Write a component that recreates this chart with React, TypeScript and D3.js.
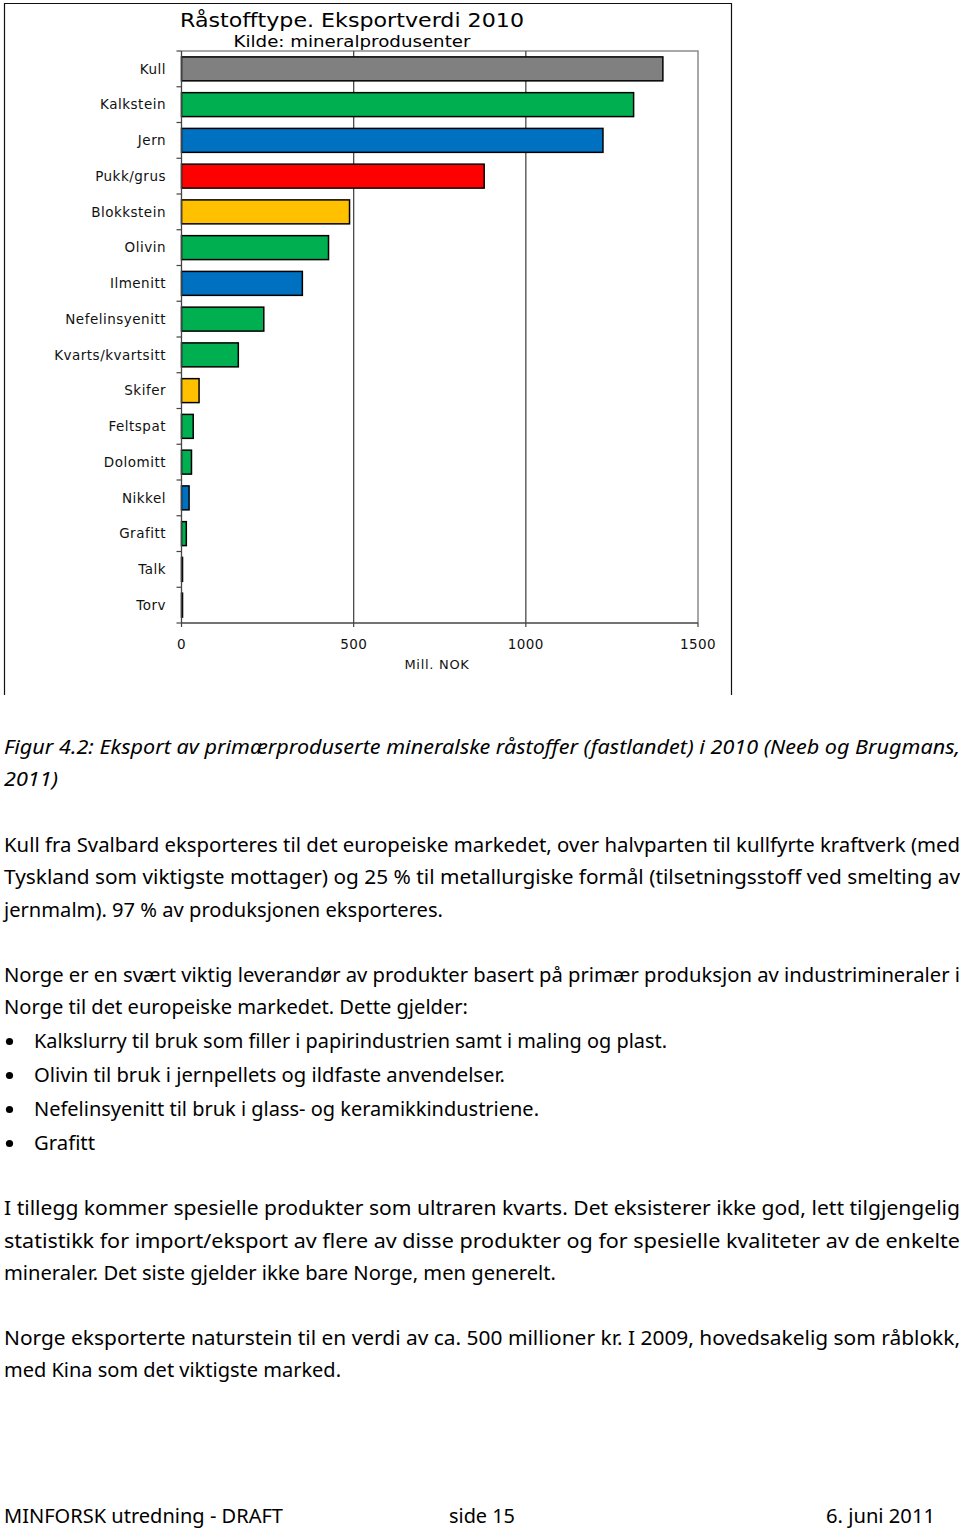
import React from "react";
import * as d3 from "d3";

// ---------- data ----------
const categories = [
  "Kull", "Kalkstein", "Jern", "Pukk/grus", "Blokkstein", "Olivin", "Ilmenitt",
  "Nefelinsyenitt", "Kvarts/kvartsitt", "Skifer", "Feltspat", "Dolomitt",
  "Nikkel", "Grafitt", "Talk", "Torv",
];
const values = [1398, 1313, 1224, 879, 488, 427, 351, 239, 165, 51, 34, 29, 22, 14, 3, 3];
const groups = [
  "kull", "ind", "metall", "byggeråstoff", "naturstein", "ind", "metall",
  "ind", "ind", "naturstein", "ind", "ind", "metall", "ind", "ind", "kull",
];
const xTicks = [0, 500, 1000, 1500];
const chartTitle = "Råstofftype. Eksportverdi 2010";
const chartSubtitle = "Kilde: mineralprodusenter";
const xAxisTitle = "Mill. NOK";

const captionLines = [
  "Figur 4.2: Eksport av primærproduserte mineralske råstoffer (fastlandet) i 2010 (Neeb og Brugmans,",
  "2011)",
];
const para1 = [
  "Kull fra Svalbard eksporteres til det europeiske markedet, over halvparten til kullfyrte kraftverk (med",
  "Tyskland som viktigste mottager) og 25 % til metallurgiske formål (tilsetningsstoff ved smelting av",
  "jernmalm). 97 % av produksjonen eksporteres.",
];
const para2 = [
  "Norge er en svært viktig leverandør av produkter basert på primær produksjon av industrimineraler i",
  "Norge til det europeiske markedet. Dette gjelder:",
];
const bullets = [
  "Kalkslurry til bruk som filler i papirindustrien samt i maling og plast.",
  "Olivin til bruk i jernpellets og ildfaste anvendelser.",
  "Nefelinsyenitt til bruk i glass- og keramikkindustriene.",
  "Grafitt",
];
const para3 = [
  "I tillegg kommer spesielle produkter som ultraren kvarts. Det eksisterer ikke god, lett tilgjengelig",
  "statistikk for import/eksport av flere av disse produkter og for spesielle kvaliteter av de enkelte",
  "mineraler. Det siste gjelder ikke bare Norge, men generelt.",
];
const para4 = [
  "Norge eksporterte naturstein til en verdi av ca. 500 millioner kr. I 2009, hovedsakelig som råblokk,",
  "med Kina som det viktigste marked.",
];
const footer = ["MINFORSK utredning - DRAFT", "side 15", "6. juni 2011"];

// ---------- styles / layout ----------
const colorMap: Record<string, string> = {
  kull: "#808080",
  ind: "#00b050",
  metall: "#0070c0",
  "byggeråstoff": "#ff0000",
  naturstein: "#ffc000",
};

const BODY_FONT = "'Noto Sans', 'Open Sans', sans-serif";
const CHART_FONT = "'DejaVu Sans', Verdana, sans-serif";

type Line = { text: string; x: number; y: number; w: number; italic?: boolean };

function TextLine({ l }: { l: Line }) {
  return (
    <text
      x={l.x}
      y={l.y}
      fontFamily={BODY_FONT}
      fontSize={20}
      fontStyle={l.italic ? "italic" : "normal"}
      fill="#000"
      textLength={l.w}
      lengthAdjust="spacingAndGlyphs"
    >
      {l.text}
    </text>
  );
}

export default function App() {
  const W = 960;
  const H = 1531;

  const plotLeft = 181.5;
  const plotRight = 698;
  const plotTop = 51;
  const plotBottom = 623;

  const x = d3.scaleLinear().domain([0, 1500]).range([plotLeft, plotRight]);
  const y = d3
    .scaleBand<string>()
    .domain(categories)
    .range([plotTop, plotBottom])
    .paddingInner(0.33)
    .paddingOuter(0.165);

  const step = y.step();
  const boundaries = d3.range(categories.length + 1).map((i) => plotTop + i * step);

  // body text layout
  const FULL = 956;
  const lines: Line[] = [];
  lines.push({ text: captionLines[0], x: 4, y: 754, w: FULL, italic: true });
  lines.push({ text: captionLines[1], x: 4, y: 786, w: 54, italic: true });
  const p1w = [FULL, FULL, 439];
  para1.forEach((t, i) => lines.push({ text: t, x: 4, y: 852 + i * 32.3, w: p1w[i] }));
  const p2w = [FULL, 464];
  para2.forEach((t, i) => lines.push({ text: t, x: 4, y: 982 + i * 32.3, w: p2w[i] }));
  const bw = [633, 471, 505, 61];
  const bulletY = bullets.map((_, i) => 1048 + i * 34);
  bullets.forEach((t, i) => lines.push({ text: t, x: 34, y: bulletY[i], w: bw[i] }));
  const p3w = [FULL, FULL, 552];
  para3.forEach((t, i) => lines.push({ text: t, x: 4, y: 1215 + i * 32.5, w: p3w[i] }));
  const p4w = [FULL, 337];
  para4.forEach((t, i) => lines.push({ text: t, x: 4, y: 1345 + i * 32.3, w: p4w[i] }));
  const fx = [4, 449, 826];
  const fw = [279, 66, 109];
  footer.forEach((t, i) => lines.push({ text: t, x: fx[i], y: 1523, w: fw[i] }));

  return (
    <svg
      width={W}
      height={H}
      style={{ position: "absolute", left: 0, top: 0, background: "#fff" }}
    >
      <rect x={0} y={0} width={W} height={H} fill="#fff" />

      {/* chart outer frame (open at the bottom) */}
      <path d="M4.5,695 V3.5 H731.5 V695" fill="none" stroke="#111" strokeWidth={1.2} />

      {/* titles */}
      <text
        x={352}
        y={27}
        textAnchor="middle"
        fontFamily={CHART_FONT}
        fontSize={19.5}
        fill="#000"
        textLength={344}
        lengthAdjust="spacingAndGlyphs"
      >
        {chartTitle}
      </text>
      <text
        x={352}
        y={47}
        textAnchor="middle"
        fontFamily={CHART_FONT}
        fontSize={15.5}
        fill="#000"
        textLength={237}
        lengthAdjust="spacingAndGlyphs"
      >
        {chartSubtitle}
      </text>

      {/* plot border top & right */}
      <path
        d={`M${plotLeft},${plotTop} H${x(1500)} V${plotBottom}`}
        fill="none"
        stroke="#8c8c8c"
        strokeWidth={1.5}
      />

      {/* grid lines */}
      {xTicks
        .filter((t) => t > 0 && t < 1500)
        .map((t) => (
          <line
            key={"g" + t}
            x1={x(t)}
            x2={x(t)}
            y1={plotTop}
            y2={plotBottom}
            stroke="#4a4a4a"
            strokeWidth={1.3}
          />
        ))}

      {/* bars */}
      {categories.map((c, i) => (
        <rect
          key={c}
          x={x(0)}
          y={y(c)}
          width={Math.max(0, x(values[i]) - x(0))}
          height={y.bandwidth()}
          fill={colorMap[groups[i]]}
          stroke="#000"
          strokeWidth={1.5}
        />
      ))}

      {/* y axis */}
      <line x1={plotLeft} x2={plotLeft} y1={plotTop} y2={plotBottom} stroke="#444" strokeWidth={1.3} />
      {boundaries.map((b, i) => (
        <line key={"yt" + i} x1={plotLeft - 5} x2={plotLeft} y1={b} y2={b} stroke="#444" strokeWidth={1.2} />
      ))}
      {categories.map((c) => (
        <text
          key={"l" + c}
          x={166}
          y={(y(c) ?? 0) + y.bandwidth() / 2}
          dy="0.36em"
          textAnchor="end"
          fontFamily={CHART_FONT}
          fontSize={13.5}
          letterSpacing={0.5}
          fill="#111"
        >
          {c}
        </text>
      ))}

      {/* x axis */}
      <line x1={plotLeft} x2={x(1500)} y1={plotBottom} y2={plotBottom} stroke="#444" strokeWidth={1.5} />
      {xTicks.map((t) => (
        <g key={"xt" + t}>
          <line x1={x(t)} x2={x(t)} y1={plotBottom} y2={plotBottom + 4} stroke="#444" strokeWidth={1.2} />
          <text
            x={x(t)}
            y={649}
            textAnchor="middle"
            fontFamily={CHART_FONT}
            fontSize={13.5}
            letterSpacing={0.4}
            fill="#111"
          >
            {t}
          </text>
        </g>
      ))}
      <text
        x={437}
        y={669}
        textAnchor="middle"
        fontFamily={CHART_FONT}
        fontSize={13}
        letterSpacing={0.7}
        fill="#111"
      >
        {xAxisTitle}
      </text>

      {/* body text */}
      {bulletY.map((by, i) => (
        <circle key={"b" + i} cx={9.5} cy={by - 6.5} r={3.6} fill="#000" />
      ))}
      {lines.map((l, i) => (
        <TextLine key={"t" + i} l={l} />
      ))}
    </svg>
  );
}
